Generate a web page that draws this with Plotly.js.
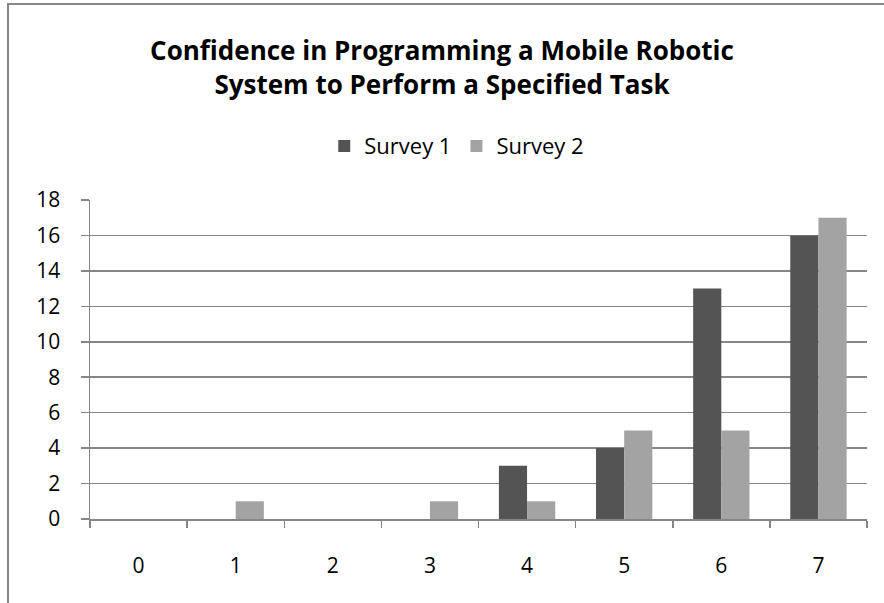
<!DOCTYPE html>
<html>
<head>
<meta charset="utf-8">
<script src="https://cdn.plot.ly/plotly-3.0.1.min.js"></script>
<style>
  html, body { margin: 0; padding: 0; background: #fff; }
  #wrap { position: relative; width: 884px; height: 603px; overflow: hidden; }
  #chart { width: 884px; height: 603px; }
  #frame { position: absolute; left: 7px; top: 3px; width: 900px; height: 700px;
           border-top: 2px solid #868686; border-left: 2px solid #868686; pointer-events: none; }
</style>
</head>
<body>
<div id="wrap">
  <div id="chart"></div>
  <div id="frame"></div>
</div>
<script>
const categories = ["0", "1", "2", "3", "4", "5", "6", "7"];
const survey1 = [0, 0, 0, 0, 3, 4, 13, 16];
const survey2 = [0, 1, 0, 1, 1, 5, 5, 17];
const seriesNames = ["Survey 1", "Survey 2"];
const yTicks = [0, 2, 4, 6, 8, 10, 12, 14, 16, 18];

const FONT = "Open Sans, Noto Sans, sans-serif";

const traces = [
  { type: "bar", name: seriesNames[0], x: categories, y: survey1,
    marker: { color: "#545454", line: { width: 0 } } },
  { type: "bar", name: seriesNames[1], x: categories, y: survey2,
    marker: { color: "#a3a3a3", line: { width: 0 } } }
];

const layout = {
  width: 884, height: 603,
  margin: { l: 90, r: 17, t: 200, b: 84 },
  paper_bgcolor: "#ffffff", plot_bgcolor: "#ffffff",
  font: { family: FONT, color: "#000000", size: 20 },
  title: {
    text: "<b>Confidence in Programming a Mobile Robotic<br>System to Perform a Specified Task</b>",
    font: { family: FONT, size: 26, color: "#000000" },
    x: 0.5, xref: "container", xanchor: "center",
    y: 0.9, yref: "container", yanchor: "top"
  },
  showlegend: true,
  legend: {
    orientation: "h", x: 0.472, xanchor: "center", y: 1.169, yanchor: "middle",
    font: { family: FONT, size: 22, color: "#000000" },
    traceorder: "normal", itemwidth: 30
  },
  bargap: 0.42, bargroupgap: 0, barmode: "group",
  xaxis: {
    type: "category", categoryorder: "array", categoryarray: categories,
    tickson: "boundaries", ticks: "outside", ticklen: 7, tickcolor: "#868686", tickwidth: 1.5,
    showline: true, linecolor: "#868686", linewidth: 1.5,
    showgrid: false, zeroline: false,
    ticklabelstandoff: 27,
    tickfont: { family: FONT, size: 21, color: "#000000" }
  },
  yaxis: {
    range: [0, 18], tickmode: "array", tickvals: yTicks, ticktext: yTicks.map(String),
    ticks: "outside", ticklen: 8, tickcolor: "#868686", tickwidth: 1.5,
    showline: true, linecolor: "#868686", linewidth: 1.5,
    showgrid: true, gridcolor: "#868686", gridwidth: 1.5,
    zeroline: false,
    ticklabelstandoff: 16,
    tickfont: { family: FONT, size: 21, color: "#000000" }
  }
};

Plotly.newPlot("chart", traces, layout, { displayModeBar: false, staticPlot: true });
</script>
</body>
</html>
